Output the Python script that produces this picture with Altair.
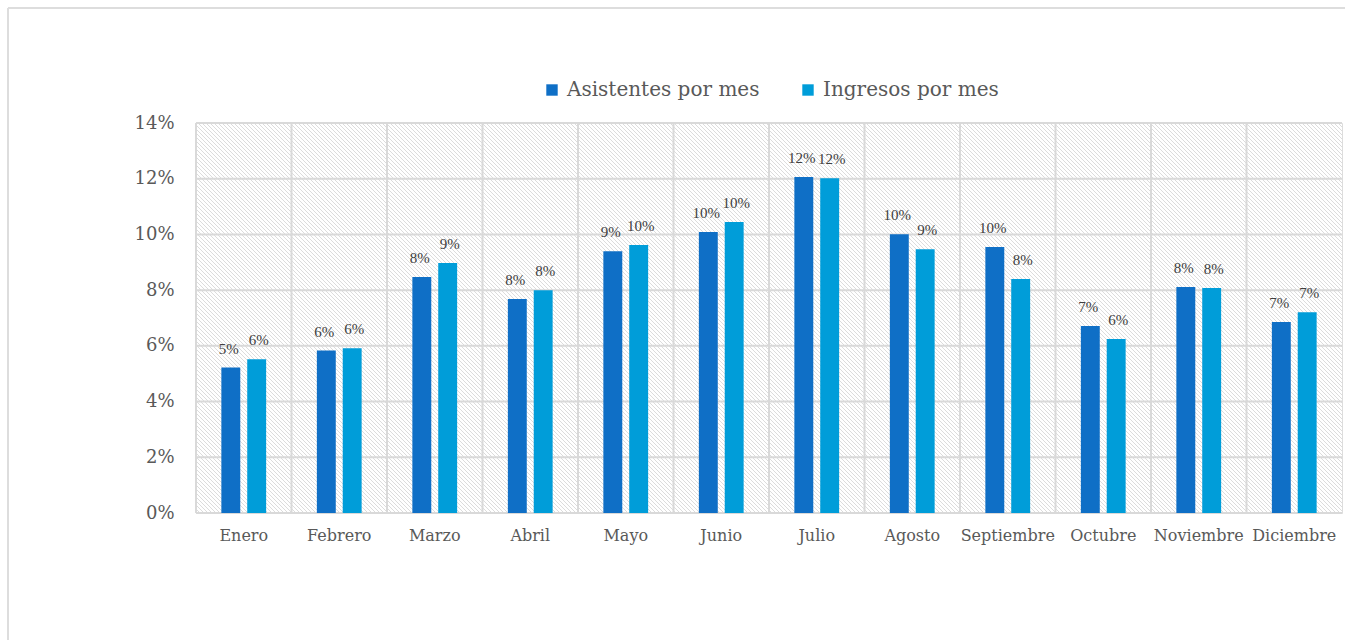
import altair as alt
import pandas as pd

months = ["Enero", "Febrero", "Marzo", "Abril", "Mayo", "Junio", "Julio",
          "Agosto", "Septiembre", "Octubre", "Noviembre", "Diciembre"]
series_names = ["Asistentes por mes", "Ingresos por mes"]
asistentes = [0.0522, 0.0583, 0.0847, 0.0768, 0.0940, 0.1009, 0.1206,
              0.1001, 0.0955, 0.0671, 0.0811, 0.0686]
ingresos = [0.0552, 0.0591, 0.0897, 0.0800, 0.0962, 0.1045, 0.1202,
            0.0947, 0.0840, 0.0625, 0.0808, 0.0721]
y_ticks = [0, 0.02, 0.04, 0.06, 0.08, 0.10, 0.12, 0.14]
colors = ["#0F6FC6", "#009DD9"]

W, H = 1146, 390
GRID = "#D9D9D9"
FONT = "DejaVu Serif"

rows = []
for m, a, i in zip(months, asistentes, ingresos):
    rows.append({"month": m, "series": series_names[0], "value": a})
    rows.append({"month": m, "series": series_names[1], "value": i})
df = pd.DataFrame(rows)

# decorative hatch pattern of the plot background
step = 4
hatch_df = pd.DataFrame({"k": list(range(0, (W + H) // step + 2))})

xscale = alt.Scale(domain=months, paddingInner=0, paddingOuter=0)
yscale = alt.Scale(domain=[0, 0.14])

hatch = alt.Chart(hatch_df).mark_rule(color="#DCDCDC", strokeWidth=1, clip=True).transform_calculate(
    hx=f"datum.k * {step} - {H}", hx2=f"datum.k * {step}", hy="0", hy2=str(H)
).encode(
    x=alt.X("hx:Q", scale=None, axis=None),
    x2="hx2:Q",
    y=alt.Y("hy:Q", scale=None, axis=None),
    y2="hy2:Q",
)

vgrid = alt.Chart(pd.DataFrame({"month": months})).mark_rule(color=GRID, strokeWidth=2).encode(
    x=alt.X("month:N", sort=months, scale=xscale, axis=None, bandPosition=0),
    y=alt.value(0),
    y2=alt.value(H),
)

hgrid = alt.Chart(pd.DataFrame({"t": y_ticks})).mark_rule(color=GRID, strokeWidth=2).encode(
    y=alt.Y("t:Q", scale=yscale, axis=None),
    x=alt.value(0),
    x2=alt.value(W),
)

offset_scale = alt.Scale(domain=series_names, paddingInner=0.269, paddingOuter=0.98)

bars = alt.Chart(df).mark_bar().encode(
    x=alt.X("month:N", sort=months, scale=xscale,
            axis=alt.Axis(title=None, labelAngle=0, ticks=False, domain=False, grid=False,
                          labelFontSize=16, labelColor="#595959", labelPadding=14, labelFont=FONT)),
    xOffset=alt.XOffset("series:N", sort=series_names, scale=offset_scale),
    y=alt.Y("value:Q", scale=yscale,
            axis=alt.Axis(title=None, values=y_ticks, format=".0%", grid=False, domain=False,
                          ticks=False, labelFontSize=18, labelColor="#595959", labelPadding=22,
                          labelFont=FONT)),
    color=alt.Color("series:N", sort=series_names,
                    scale=alt.Scale(domain=series_names, range=colors),
                    legend=alt.Legend(title=None, orient="none", legendX=346, legendY=-43,
                                      direction="horizontal", symbolType="square", symbolSize=130,
                                      symbolStrokeWidth=0, symbolOpacity=1, labelFontSize=20,
                                      labelColor="#595959", labelFont=FONT, labelOffset=5,
                                      labelLimit=0, columnPadding=38)),
)


def label_layer(series, dx):
    return alt.Chart(df).transform_filter(alt.datum.series == series).mark_text(
        baseline="middle", dy=-19, dx=dx, fontSize=15, color="#404040", font="Liberation Serif"
    ).encode(
        x=alt.X("month:N", sort=months, scale=xscale, axis=None),
        xOffset=alt.XOffset("series:N", sort=series_names, scale=offset_scale),
        y=alt.Y("value:Q", scale=yscale, axis=None),
        text=alt.Text("value:Q", format=".0%"),
    )


labels_a = label_layer(series_names[0], -2)
labels_b = label_layer(series_names[1], 2)

frame_top = alt.Chart(alt.Data(values=[{"a": 1}])).mark_rule(color="#DDDDDD", strokeWidth=2).encode(
    x=alt.value(-188), x2=alt.value(W + 3), y=alt.value(-115)
)
frame_left = alt.Chart(alt.Data(values=[{"a": 1}])).mark_rule(color="#DDDDDD", strokeWidth=2).encode(
    x=alt.value(-188), y=alt.value(-115), y2=alt.value(H + 127)
)

chart = alt.layer(frame_top, frame_left, hatch, vgrid, hgrid, bars, labels_a, labels_b).resolve_scale(
    x="independent", y="independent"
).properties(
    width=W, height=H,
    autosize=alt.AutoSizeParams(type="none"),
    padding={"left": 196, "top": 123, "right": 3, "bottom": 127},
).configure_view(stroke=None).configure(font=FONT)

chart.save("out.html", embed_options={"renderer": "svg", "actions": False})
